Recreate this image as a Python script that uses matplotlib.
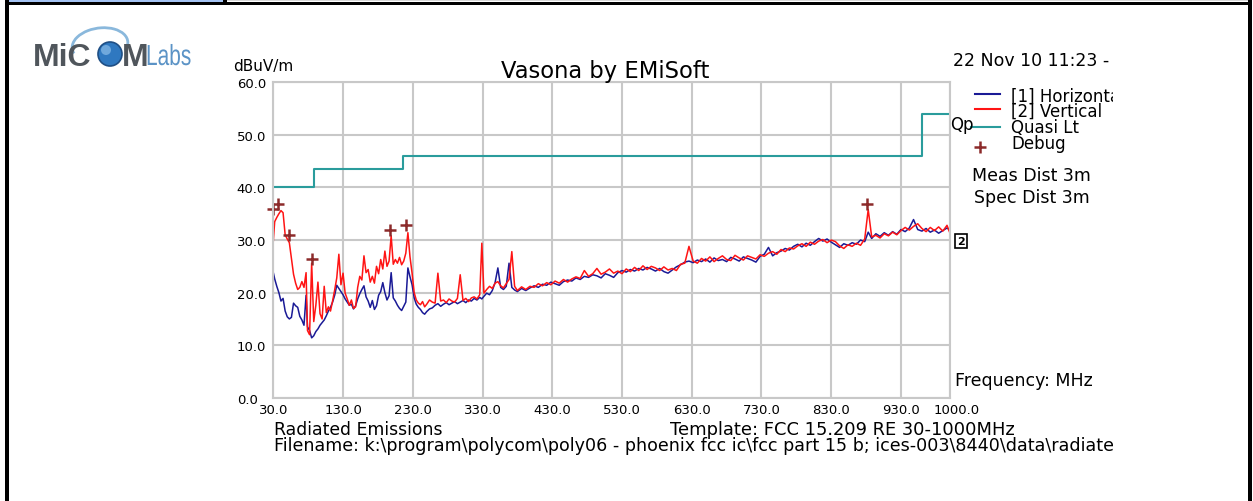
import matplotlib
matplotlib.use("Agg")
import matplotlib.pyplot as plt
from matplotlib.patches import Rectangle, Circle, Arc, PathPatch
from matplotlib.textpath import TextPath
from matplotlib.font_manager import FontProperties
from matplotlib.transforms import ScaledTranslation, Affine2D

# --- data ---
freq_mhz = [
    30, 32, 35, 38, 41, 44, 47, 50, 53, 56,
    59, 62, 65, 68, 71, 74, 77, 79, 82, 85,
    88, 91, 94, 97, 100, 103, 106, 109, 112, 115,
    118, 121, 124, 127, 130, 133, 136, 139, 142, 145,
    148, 151, 154, 157, 160, 163, 166, 169, 172, 175,
    178, 181, 184, 187, 190, 193, 196, 199, 202, 205,
    208, 211, 214, 217, 220, 223, 226, 229, 232, 235,
    238, 241, 244, 247, 250, 254, 258, 262, 266, 270,
    274, 278, 282, 286, 290, 294, 298, 302, 306, 310,
    314, 318, 322, 326, 329, 332, 336, 340, 344, 348,
    352, 356, 360, 364, 368, 372, 376, 380, 386, 392,
    398, 404, 410, 416, 422, 428, 434, 440, 446, 452,
    458, 464, 470, 476, 482, 488, 494, 500, 506, 512,
    518, 524, 530, 536, 542, 548, 554, 560, 566, 572,
    578, 584, 590, 596, 602, 608, 614, 620, 626, 632,
    638, 644, 650, 656, 662, 668, 674, 680, 686, 692,
    698, 704, 710, 716, 722, 728, 734, 740, 746, 752,
    758, 764, 770, 776, 782, 788, 794, 800, 806, 812,
    818, 824, 830, 836, 842, 848, 854, 860, 866, 872,
    878, 883, 888, 894, 900, 906, 912, 918, 924, 930,
    936, 942, 948, 954, 960, 966, 972, 978, 984, 990,
    996, 1000,
]

# [1] Horizontal
horizontal = [
    23.8, 22.6, 21.2, 20.0, 18.4, 18.9, 16.5, 15.4, 15.0, 15.3,
    18.0, 17.5, 17.2, 15.5, 14.8, 13.8, 19.5, 13.5, 12.8, 11.4,
    11.8, 12.6, 13.1, 13.8, 14.3, 14.8, 15.6, 16.5, 17.2, 18.2,
    19.5, 21.4, 20.8, 20.2, 19.6, 18.8, 18.2, 17.6, 17.8, 16.9,
    17.5, 18.8, 19.8, 20.6, 21.3, 19.2, 18.4, 17.2, 18.5, 16.8,
    17.5, 19.5, 20.2, 21.9, 20.0, 18.6, 19.4, 23.8, 19.0, 18.4,
    17.6, 17.0, 16.6, 17.4, 18.2, 24.7, 23.0, 21.5, 19.0, 17.8,
    17.2, 16.8, 16.2, 15.9, 16.4, 16.9, 17.1, 17.6, 17.9, 17.4,
    17.8, 18.1, 17.7, 18.0, 18.3, 17.9, 18.2, 18.5, 18.1, 18.6,
    18.4, 18.9, 18.6, 19.1, 18.8, 19.3, 19.9, 19.6, 20.4, 21.9,
    24.7, 21.0, 20.6, 21.2, 25.6, 21.0, 20.5, 20.2, 20.8, 20.4,
    20.9, 21.3, 21.0, 21.6, 21.4, 22.0, 21.7, 21.4, 22.1, 22.4,
    22.2, 22.8, 22.5, 23.1, 22.9, 23.4, 23.2, 22.8, 23.6, 23.3,
    22.9, 23.8, 24.2, 23.9, 24.4, 24.1, 24.6, 24.3, 24.8, 24.5,
    24.1, 24.6, 24.0, 23.7, 24.3, 24.9, 25.3, 25.8, 26.0, 25.7,
    26.2, 25.9, 26.4, 25.8, 26.6, 26.1, 26.3, 25.9, 26.7, 26.4,
    26.0, 26.8, 26.5, 26.2, 25.8, 26.9, 27.3, 28.6, 27.0, 27.6,
    27.9, 28.4, 28.1, 28.8, 29.2, 28.7, 29.4, 29.0, 29.7, 30.3,
    29.8, 30.2, 29.6, 29.1, 28.6, 29.3, 29.0, 29.5, 29.2, 30.0,
    29.7, 31.5, 30.3, 31.2, 30.7, 31.4, 30.9, 31.6, 31.1, 32.0,
    31.6, 32.3, 33.9, 32.0, 31.7, 32.2, 31.5, 31.9, 31.3, 31.8,
    32.3, 31.9,
]

# [2] Vertical
vertical = [
    29.8, 33.5, 34.3, 35.0, 35.6, 35.2, 31.0, 30.2, 29.5, 26.5,
    23.5, 21.8, 20.6, 21.0, 22.1, 21.0, 23.8, 12.8, 12.0, 25.6,
    14.5, 17.6, 22.0, 16.0, 15.0, 21.2, 16.2, 17.3, 16.5, 18.4,
    20.5, 22.8, 27.3, 21.5, 23.7, 19.9, 18.8, 17.6, 18.6, 17.0,
    17.3, 21.0, 23.1, 22.4, 27.0, 23.8, 24.4, 22.0, 23.1, 21.8,
    25.0, 23.6, 26.3, 24.5, 27.9, 25.0, 26.0, 30.8, 25.4, 26.3,
    25.6, 26.7, 25.3, 26.0, 27.5, 31.4, 26.8, 23.7, 20.0, 18.6,
    18.0, 17.7, 18.3, 17.3, 17.8, 18.6, 18.2, 18.0, 23.7, 18.4,
    18.6, 18.1, 18.8, 18.4, 18.2, 18.9, 23.4, 18.5, 18.9, 18.3,
    19.0, 19.2, 18.8, 19.6, 29.4, 19.9, 20.6, 21.2, 20.8, 21.8,
    22.1, 21.3, 20.9, 21.7, 22.5, 27.8, 21.2, 20.4, 21.1, 20.6,
    21.2, 21.0, 21.7, 21.3, 21.9, 21.5, 22.2, 21.8, 22.5, 22.0,
    22.6, 23.0, 22.7, 24.2, 23.1, 23.6, 24.6, 23.5, 23.9, 24.5,
    23.7, 24.1, 23.6, 24.5, 24.0, 24.8, 24.2, 25.1, 24.4, 25.0,
    24.7, 24.2, 24.9, 24.3, 24.6, 24.2, 25.4, 25.6, 28.8, 26.0,
    25.6, 26.5, 26.0, 26.8, 25.9, 26.5, 27.0, 26.3, 26.1, 27.1,
    26.6, 26.2, 27.0, 26.7, 26.4, 27.2, 26.9, 27.5, 27.8, 27.3,
    28.2, 27.8, 28.5, 28.3, 28.9, 29.3, 28.8, 29.6, 29.2, 29.8,
    30.1, 29.5, 30.0, 29.7, 28.9, 28.4, 29.1, 28.8, 29.4, 29.0,
    30.2, 35.8, 30.6, 30.9, 30.4, 31.2, 30.8, 31.5, 31.0, 31.8,
    32.4, 31.9, 32.6, 33.1, 32.2, 31.6, 32.4, 31.8, 32.5, 31.7,
    32.8, 31.4,
]

# FCC 15.209 quasi-peak limit at 3 m
limit_freq = [30, 88, 216, 960, 1000]
limit_level = [40.0, 43.5, 46.0, 54.0, 54.0]

# debug markers
debug_freq = [30, 37, 52, 85, 197, 220, 881]
debug_level = [35.9, 36.9, 31.0, 26.4, 31.9, 32.9, 36.9]

x_ticks = [30, 130, 230, 330, 430, 530, 630, 730, 830, 930, 1000]
y_ticks = [0, 10, 20, 30, 40, 50, 60]

BLUE = "#1a1a96"
RED = "#ff1414"
TEAL = "#2a9c9c"
DEBUG = "#8c2a2a"
GRID = "#c8c8c8"

W, H = 1253, 502
plt.rcParams["font.family"] = "DejaVu Sans"

fig = plt.figure(figsize=(W / 100, H / 100), dpi=100)

# main plot area (pixel box 273..950 x 83..399)
ax = fig.add_axes([273.3 / W, 1 - 398.8 / H, (949.8 - 273.3) / W, (398.8 - 83.3) / H])
ax.set_axisbelow(True)
ax.plot(freq_mhz, horizontal, color=BLUE, lw=1.1)
ax.plot(freq_mhz, vertical, color=RED, lw=1.1)
ax.plot(limit_freq, limit_level, drawstyle="steps-post", color=TEAL, lw=1.5)
ax.plot(debug_freq, debug_level, ls="none", marker="+", ms=9, mew=1.8,
        color=DEBUG, clip_on=False)
ax.set_xlim(30, 1000)
ax.set_ylim(0, 60)
ax.set_xticks(x_ticks)
ax.set_xticklabels([f"{t:.1f}" for t in x_ticks])
ax.set_yticks(y_ticks)
ax.set_yticklabels([f"{t:.1f}" for t in y_ticks])
ax.grid(True, color=GRID, lw=1.5)
for s in ax.spines.values():
    s.set_color(GRID)
    s.set_linewidth(1.5)
ax.tick_params(length=0, labelsize=9.5, colors="black")
ax.tick_params(axis="x", pad=4)
ax.tick_params(axis="y", pad=26.3)
for lab in ax.get_yticklabels():
    lab.set_ha("left")
last = ax.get_xticklabels()[-1]
last.set_transform(last.get_transform() + ScaledTranslation(0.07, 0, fig.dpi_scale_trans))

# overlay in pixel coordinates for frame, logo and annotations
ov = fig.add_axes([0, 0, 1, 1])
ov.set_xlim(0, W)
ov.set_ylim(H, 0)
ov.axis("off")

tx = fig.add_axes([0, 0, 1113 / W, 1])
tx.set_xlim(0, 1113)
tx.set_ylim(H, 0)
tx.axis("off")

# window frame
ov.add_patch(Rectangle((9, 0), 214, 3, fc="#a3c2f2", ec="none"))
ov.add_patch(Rectangle((227, 0), 1021, 2, fc="#d8d8d8", ec="none"))
ov.add_patch(Rectangle((223, 0), 4, 3, fc="black", ec="none"))
ov.add_patch(Rectangle((5, 3), 1247, 3, fc="black", ec="none"))
ov.add_patch(Rectangle((5, 0), 4, H, fc="black", ec="none"))
ov.add_patch(Rectangle((1248, 0), 4, H, fc="black", ec="none"))

# logo
ov.add_patch(Arc((100, 46), 56, 34, angle=-8, theta1=170, theta2=380,
                 color="#8ab8dc", lw=2.0))
ov.text(33, 66, "MiC", family="Liberation Sans", weight="bold", fontsize=23,
        color="#50565c")
ov.add_patch(Circle((110, 55), 12, fc="#2f78c0", ec="#1f4f85", lw=1.2))
ov.add_patch(Circle((106, 51), 5, fc="#6fa8dc", ec="none"))
ov.text(122, 66, "M", family="Liberation Sans", weight="bold", fontsize=23,
        color="#50565c")
labs = TextPath((0, 0), "Labs", size=29, prop=FontProperties(family="Liberation Sans"))
labs_tr = Affine2D().scale(0.72, -1).translate(146, 66)
ov.add_patch(PathPatch(labs_tr.transform_path(labs), fc="#5b93c6", ec="none"))

fs = 12
tx.text(233, 71, "dBuV/m", fontsize=11)
tx.text(605, 78, "Vasona by EMiSoft", fontsize=16.3, ha="center")
tx.text(953, 66, "22 Nov 10 11:23 -", fontsize=12.5, clip_on=True)

# legend
ov.plot([975, 1000], [94.5, 94.5], color=BLUE, lw=1.5)
ov.plot([975, 1000], [110, 110], color=RED, lw=1.5)
ov.plot([971, 1000], [128.3, 128.3], color=TEAL, lw=1.5)
ov.plot([980], [148], ls="none", marker="+", ms=8, mew=1.8, color=DEBUG)
tx.text(1011, 101.5, "[1] Horizontal", fontsize=fs, clip_on=True)
tx.text(1011, 117, "[2] Vertical", fontsize=fs)
tx.text(1011, 133.3, "Quasi Lt", fontsize=fs)
tx.text(1011, 149, "Debug", fontsize=fs)
tx.text(950, 130, "Qp", fontsize=fs)
tx.text(972, 181.5, "Meas Dist 3m", fontsize=12.5)
tx.text(974, 203.5, "Spec Dist 3m", fontsize=12.5)
ov.text(961, 242, "2", fontsize=8, weight="bold", ha="center", va="center",
        bbox=dict(boxstyle="square,pad=0.15", fc="white", ec="black", lw=1.2))
tx.text(955, 386, "Frequency: MHz", fontsize=12.5)

tx.text(274, 435, "Radiated Emissions", fontsize=12.4)
tx.text(670, 435, "Template: FCC 15.209 RE 30-1000MHz", fontsize=12.9)
tx.text(274, 451, "Filename: k:\\program\\polycom\\poly06 - phoenix fcc ic\\fcc part 15 b; "
        "ices-003\\8440\\data\\radiate", fontsize=12.6, clip_on=True)

fig.savefig("out.png", dpi=100)
